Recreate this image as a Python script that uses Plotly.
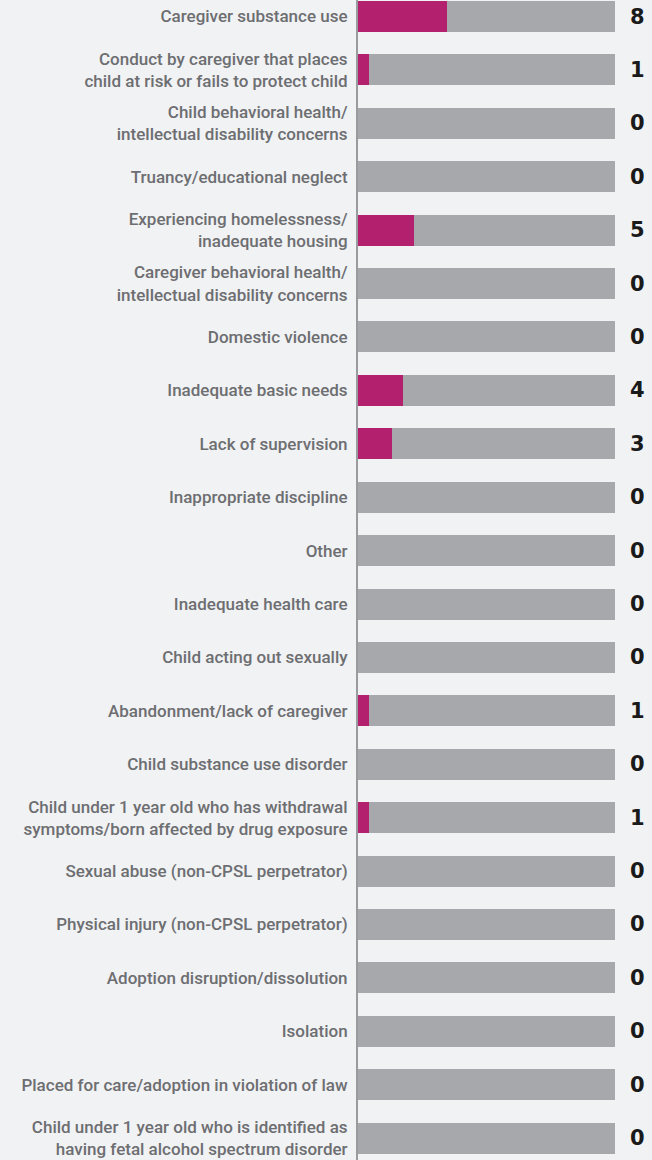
import plotly.graph_objects as go

# -----------------------------
# Data
# -----------------------------
categories = [
    "Caregiver substance use",
    "Conduct by caregiver that places<br>child at risk or fails to protect child",
    "Child behavioral health/<br>intellectual disability concerns",
    "Truancy/educational neglect",
    "Experiencing homelessness/<br>inadequate housing",
    "Caregiver behavioral health/<br>intellectual disability concerns",
    "Domestic violence",
    "Inadequate basic needs",
    "Lack of supervision",
    "Inappropriate discipline",
    "Other",
    "Inadequate health care",
    "Child acting out sexually",
    "Abandonment/lack of caregiver",
    "Child substance use disorder",
    "Child under 1 year old who has withdrawal<br>symptoms/born affected by drug exposure",
    "Sexual abuse (non-CPSL perpetrator)",
    "Physical injury (non-CPSL perpetrator)",
    "Adoption disruption/dissolution",
    "Isolation",
    "Placed for care/adoption in violation of law",
    "Child under 1 year old who is identified as<br>having fetal alcohol spectrum disorder",
]
counts = [8, 1, 0, 0, 5, 0, 0, 4, 3, 0, 0, 0, 0, 1, 0, 1, 0, 0, 0, 0, 0, 0]
total = 23

MAGENTA = "#b3216e"
GRAY = "#a7a8ab"
BG = "#f1f2f4"

n = len(categories)
idx = list(range(n))

fig = go.Figure()

# background (total) bars
fig.add_trace(
    go.Bar(
        y=idx,
        x=[total] * n,
        orientation="h",
        marker=dict(color=GRAY, line=dict(width=0)),
        width=0.58,
        hoverinfo="skip",
    )
)

# count bars
fig.add_trace(
    go.Bar(
        y=idx,
        x=counts,
        orientation="h",
        marker=dict(color=MAGENTA, line=dict(width=0)),
        width=0.58,
    )
)

# value labels on the right
for i, c in zip(idx, counts):
    fig.add_annotation(
        x=total,
        y=i,
        xref="x",
        yref="y",
        text=str(c),
        showarrow=False,
        xanchor="center",
        xshift=22,
        font=dict(family="DejaVu Sans", size=21, color="#1a1a1a", weight=700),
    )

fig.update_layout(
    width=652,
    height=1160,
    margin=dict(l=358, r=37, t=0, b=0),
    paper_bgcolor=BG,
    plot_bgcolor=BG,
    barmode="overlay",
    showlegend=False,
    bargap=0,
)

fig.update_xaxes(
    range=[0, total],
    visible=False,
    fixedrange=True,
)

fig.update_yaxes(
    tickmode="array",
    tickvals=idx,
    ticktext=categories,
    range=[21.41, -0.309],
    showgrid=False,
    zeroline=False,
    showline=True,
    linecolor="#9a9b9e",
    linewidth=2,
    ticks="",
    ticklabelstandoff=5,
    tickfont=dict(family="Roboto", size=17, color="#6d6e71", weight=500),
)

# page body has a default margin; drop it so the figure fills the window
fig.write_html(
    "out.html",
    config={"displayModeBar": False},
    post_script="document.body.style.margin='0';document.body.style.background='#f1f2f4';",
)
